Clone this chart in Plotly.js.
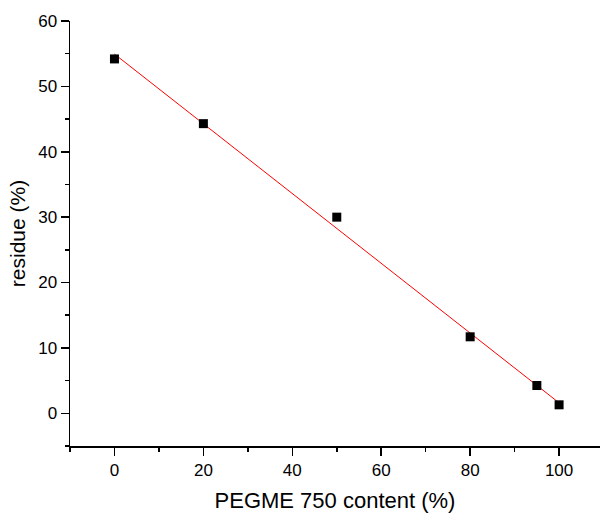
<!DOCTYPE html>
<html>
<head>
<meta charset="utf-8">
<script src="https://cdn.plot.ly/plotly-3.0.1.min.js"></script>
<style>html,body{margin:0;padding:0;background:#fff;}#chart{width:600px;height:513px;}</style>
</head>
<body>
<div id="chart"></div>
<script>
const pegmeContent = [0, 20, 50, 80, 95, 100];
const residue = [54.2, 44.3, 30.0, 11.7, 4.25, 1.3];
const fitX = [0, 100];
const fitY = [54.95, 1.6];
const xTickVals = [0, 20, 40, 60, 80, 100];
const yTickVals = [0, 10, 20, 30, 40, 50, 60];

const font = 'Liberation Sans, Arial, Helvetica, sans-serif';

const traces = [
  {x: fitX, y: fitY, mode: 'lines', line: {color: '#ff0000', width: 1}, hoverinfo: 'skip'},
  {x: pegmeContent, y: residue, mode: 'markers', marker: {symbol: 'square', size: 9, color: '#000'}}
];

const layout = {
  width: 600, height: 513,
  margin: {l: 70, r: 0, t: 21, b: 67},
  paper_bgcolor: '#fff', plot_bgcolor: '#fff',
  showlegend: false,
  font: {family: font, color: '#000', size: 17},
  xaxis: {
    range: [-10, 109.2], tickvals: xTickVals, ticks: 'outside', ticklen: 8, tickwidth: 1.5, tickcolor: '#000',
    showline: true, linewidth: 1.5, linecolor: '#000', showgrid: false, zeroline: false,
    minor: {dtick: 10, tick0: 0, ticks: 'outside', ticklen: 4, tickwidth: 1.5, tickcolor: '#000', showgrid: false},
    tickfont: {size: 17}, title: {text: 'PEGME 750 content (%)', font: {size: 22}, standoff: 13}
  },
  yaxis: {
    range: [-5, 60], tickvals: yTickVals, ticks: 'outside', ticklen: 8, tickwidth: 1.5, tickcolor: '#000',
    showline: true, linewidth: 1.5, linecolor: '#000', showgrid: false, zeroline: false,
    minor: {dtick: 5, tick0: 0, ticks: 'outside', ticklen: 4, tickwidth: 1.5, tickcolor: '#000', showgrid: false},
    tickfont: {size: 17},
    title: {text: 'residue (%)', font: {size: 21}, standoff: 7}
  }
};

Plotly.newPlot('chart', traces, layout, {displayModeBar: false, staticPlot: true});
</script>
</body>
</html>
